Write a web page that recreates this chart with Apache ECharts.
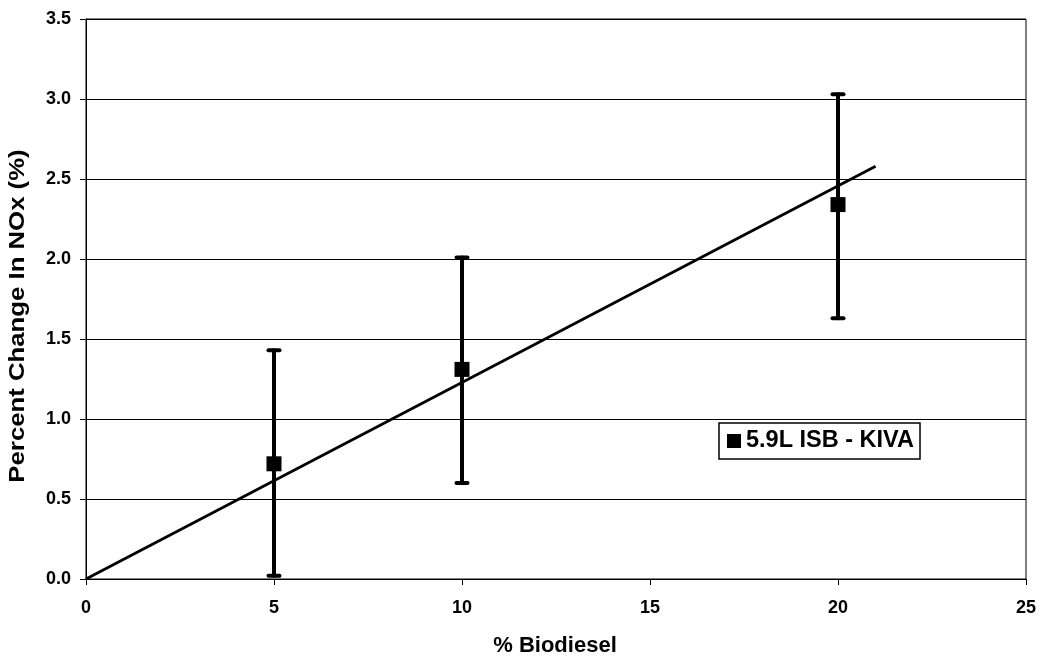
<!DOCTYPE html>
<html><head><meta charset="utf-8">
<script src="https://cdn.jsdelivr.net/npm/echarts@6/dist/echarts.min.js"></script>
<style>html,body{margin:0;padding:0;background:#fff}#c{width:1040px;height:658px}</style>
</head><body><div id="c"></div>
<script>
const biodiesel = [5, 10, 20];
const noxChange = [0.72, 1.31, 2.34];
const errLow = [0.02, 0.60, 1.63];
const errHigh = [1.43, 2.01, 3.03];
const trendX = [0, 21];
const trendY = [0, 2.58];
const seriesName = '5.9L ISB - KIVA';

const chart = echarts.init(document.getElementById('c'));
const font = 'Liberation Sans, Arial, sans-serif';
chart.setOption({
  backgroundColor: '#fff',
  animation: false,
  grid: {left: 86, right: 14, top: 19, bottom: 79, show: true, borderColor: '#000', borderWidth: 1},
  legend: {
    left: 719, top: 423, data: [seriesName], itemWidth: 14, itemHeight: 14,
    borderColor: '#000', borderWidth: 1.5, padding: [6, 6, 6, 8], itemGap: 4,
    textStyle: {fontFamily: font, fontWeight: 'bold', fontSize: 23.5, color: '#000', padding: [0, 0, 0, 0]},
    icon: 'rect', itemStyle: {opacity: 1}
  },
  xAxis: {
    type: 'value', min: 0, max: 25, interval: 5,
    axisLine: {lineStyle: {color: '#000', width: 1}},
    axisTick: {show: true, length: 6, lineStyle: {color: '#000'}},
    splitLine: {show: false},
    axisLabel: {fontFamily: font, fontWeight: 'bold', fontSize: 18, color: '#000', margin: 20},
  },
  yAxis: {
    type: 'value', min: 0, max: 3.5, interval: 0.5,
    axisLine: {show: true, lineStyle: {color: '#000', width: 1}},
    axisTick: {show: true, length: 6, lineStyle: {color: '#000'}},
    splitLine: {show: true, lineStyle: {color: '#000', width: 1}},
    axisLabel: {fontFamily: font, fontWeight: 'bold', fontSize: 18, color: '#000', margin: 15,
      formatter: v => v.toFixed(1)},
  },
  graphic: [
    {type: 'text', x: 555, y: 646, style: {text: '% Biodiesel', font: 'bold 22px Liberation Sans, Arial', fill: '#000', align: 'center', verticalAlign: 'middle'}},
    {type: 'text', x: 7, y: 316, rotation: Math.PI / 2, scaleX: 1.17, style: {text: 'Percent Change In NOx (%)', font: 'bold 22px Liberation Sans, Arial', fill: '#000', align: 'center', verticalAlign: 'top'}}
  ],
  series: [
    {
      type: 'line', name: 'trend', data: trendX.map((x, i) => [x, trendY[i]]),
      symbol: 'none', lineStyle: {color: '#000', width: 2.8}, silent: true, z: 3
    },
    {
      type: 'custom', name: 'err', z: 4,
      data: biodiesel.map((x, i) => [x, errLow[i], errHigh[i]]),
      renderItem: (params, api) => {
        const lo = api.coord([api.value(0), api.value(1)]);
        const hi = api.coord([api.value(0), api.value(2)]);
        const hw = 5.5;
        const st = {stroke: '#000', lineWidth: 4, lineCap: 'round'};
        return {type: 'group', children: [
          {type: 'line', shape: {x1: lo[0], y1: lo[1], x2: hi[0], y2: hi[1]}, style: st},
          {type: 'line', shape: {x1: lo[0] - hw, y1: lo[1], x2: lo[0] + hw, y2: lo[1]}, style: st},
          {type: 'line', shape: {x1: hi[0] - hw, y1: hi[1], x2: hi[0] + hw, y2: hi[1]}, style: st}
        ]};
      }
    },
    {
      type: 'scatter', name: seriesName, z: 5,
      data: biodiesel.map((x, i) => [x, noxChange[i]]),
      symbol: 'rect', symbolSize: 15, itemStyle: {color: '#000', opacity: 1}
    }
  ]
});
</script></body></html>
